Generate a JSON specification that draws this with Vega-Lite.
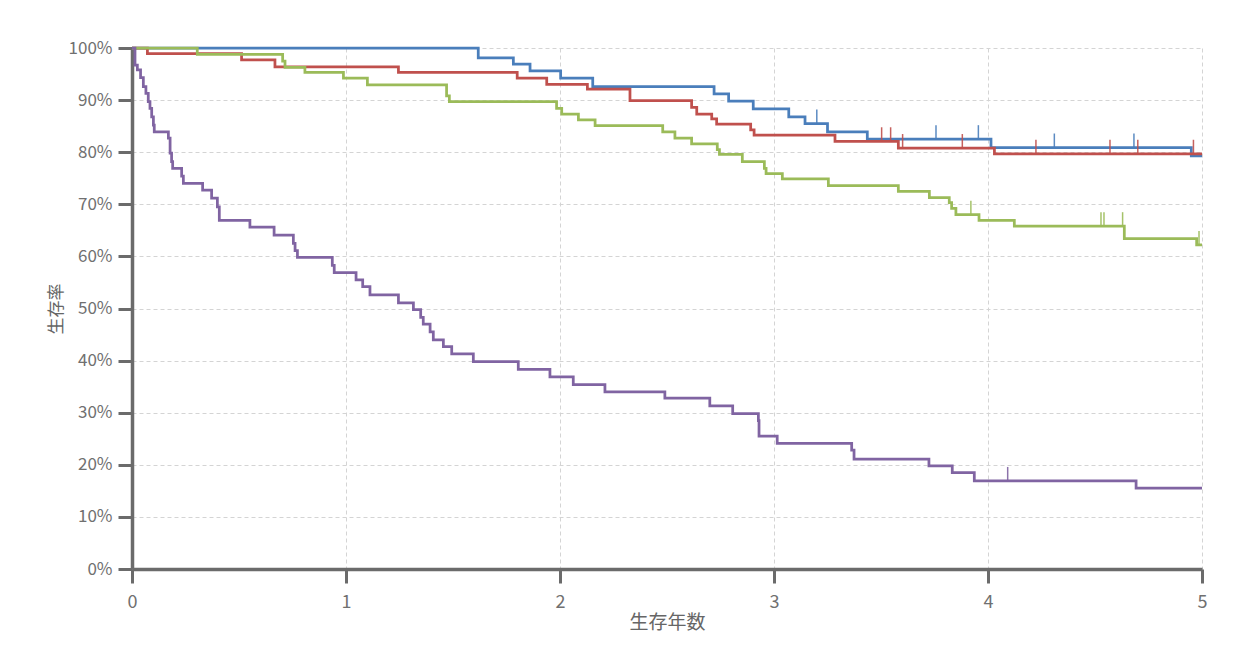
{
  "$schema": "https://vega.github.io/schema/vega-lite/v6.json",
  "width": 1070,
  "height": 521,
  "autosize": {"type": "none"},
  "padding": {"left": 132, "top": 48, "right": 41, "bottom": 90},
  "background": "white",
  "config": {"view": {"stroke": null}, "font": "Noto Sans CJK JP"},
  "datasets": {
    "km": [
      {"g": "1", "t": 0, "s": 100}, {"g": "1", "t": 1.618, "s": 98.1}, {"g": "1", "t": 1.782, "s": 96.9}, {"g": "1", "t": 1.86, "s": 95.6}, {"g": "1", "t": 2.003, "s": 94.2}, {"g": "1", "t": 2.153, "s": 92.6}, {"g": "1", "t": 2.72, "s": 91.2}, {"g": "1", "t": 2.788, "s": 89.8}, {"g": "1", "t": 2.903, "s": 88.3}, {"g": "1", "t": 3.069, "s": 86.8}, {"g": "1", "t": 3.145, "s": 85.5}, {"g": "1", "t": 3.25, "s": 83.9}, {"g": "1", "t": 3.436, "s": 82.5}, {"g": "1", "t": 4.014, "s": 80.9}, {"g": "1", "t": 4.95, "s": 79.3}, {"g": "1", "t": 5.0, "s": 79.3},
      {"g": "2", "t": 0, "s": 100}, {"g": "2", "t": 0.072, "s": 98.9}, {"g": "2", "t": 0.512, "s": 97.7}, {"g": "2", "t": 0.668, "s": 96.4}, {"g": "2", "t": 1.245, "s": 95.3}, {"g": "2", "t": 1.8, "s": 94.2}, {"g": "2", "t": 1.938, "s": 93.0}, {"g": "2", "t": 2.128, "s": 92.1}, {"g": "2", "t": 2.327, "s": 89.9}, {"g": "2", "t": 2.615, "s": 88.6}, {"g": "2", "t": 2.639, "s": 87.3}, {"g": "2", "t": 2.709, "s": 86.4}, {"g": "2", "t": 2.732, "s": 85.4}, {"g": "2", "t": 2.891, "s": 84.3}, {"g": "2", "t": 2.907, "s": 83.3}, {"g": "2", "t": 3.285, "s": 82.1}, {"g": "2", "t": 3.581, "s": 80.8}, {"g": "2", "t": 4.03, "s": 79.7}, {"g": "2", "t": 5.0, "s": 79.7},
      {"g": "3", "t": 0, "s": 100}, {"g": "3", "t": 0.305, "s": 98.8}, {"g": "3", "t": 0.704, "s": 97.5}, {"g": "3", "t": 0.715, "s": 96.3}, {"g": "3", "t": 0.808, "s": 95.3}, {"g": "3", "t": 0.988, "s": 94.2}, {"g": "3", "t": 1.1, "s": 92.9}, {"g": "3", "t": 1.47, "s": 90.8}, {"g": "3", "t": 1.483, "s": 89.7}, {"g": "3", "t": 1.984, "s": 88.4}, {"g": "3", "t": 2.008, "s": 87.3}, {"g": "3", "t": 2.086, "s": 86.2}, {"g": "3", "t": 2.164, "s": 85.1}, {"g": "3", "t": 2.48, "s": 83.9}, {"g": "3", "t": 2.537, "s": 82.7}, {"g": "3", "t": 2.615, "s": 81.6}, {"g": "3", "t": 2.735, "s": 80.5}, {"g": "3", "t": 2.745, "s": 79.6}, {"g": "3", "t": 2.852, "s": 78.2}, {"g": "3", "t": 2.955, "s": 76.9}, {"g": "3", "t": 2.963, "s": 75.9}, {"g": "3", "t": 3.039, "s": 74.9}, {"g": "3", "t": 3.254, "s": 73.6}, {"g": "3", "t": 3.581, "s": 72.5}, {"g": "3", "t": 3.726, "s": 71.3}, {"g": "3", "t": 3.819, "s": 70.3}, {"g": "3", "t": 3.83, "s": 69.2}, {"g": "3", "t": 3.85, "s": 68.0}, {"g": "3", "t": 3.958, "s": 66.9}, {"g": "3", "t": 4.123, "s": 65.8}, {"g": "3", "t": 4.637, "s": 63.4}, {"g": "3", "t": 4.975, "s": 62.2}, {"g": "3", "t": 5.0, "s": 62.2},
      {"g": "4", "t": 0, "s": 100}, {"g": "4", "t": 0.014, "s": 96.7}, {"g": "4", "t": 0.025, "s": 95.8}, {"g": "4", "t": 0.04, "s": 94.3}, {"g": "4", "t": 0.053, "s": 92.6}, {"g": "4", "t": 0.065, "s": 91.3}, {"g": "4", "t": 0.076, "s": 89.7}, {"g": "4", "t": 0.084, "s": 88.4}, {"g": "4", "t": 0.092, "s": 86.8}, {"g": "4", "t": 0.1, "s": 85.2}, {"g": "4", "t": 0.104, "s": 83.9}, {"g": "4", "t": 0.17, "s": 82.7}, {"g": "4", "t": 0.178, "s": 79.8}, {"g": "4", "t": 0.185, "s": 78.2}, {"g": "4", "t": 0.19, "s": 76.9}, {"g": "4", "t": 0.232, "s": 75.4}, {"g": "4", "t": 0.24, "s": 74.0}, {"g": "4", "t": 0.33, "s": 72.7}, {"g": "4", "t": 0.372, "s": 71.2}, {"g": "4", "t": 0.399, "s": 69.5}, {"g": "4", "t": 0.408, "s": 66.9}, {"g": "4", "t": 0.551, "s": 65.6}, {"g": "4", "t": 0.664, "s": 64.1}, {"g": "4", "t": 0.754, "s": 62.5}, {"g": "4", "t": 0.762, "s": 61.1}, {"g": "4", "t": 0.773, "s": 59.8}, {"g": "4", "t": 0.936, "s": 58.3}, {"g": "4", "t": 0.945, "s": 56.9}, {"g": "4", "t": 1.047, "s": 55.5}, {"g": "4", "t": 1.078, "s": 54.2}, {"g": "4", "t": 1.112, "s": 52.6}, {"g": "4", "t": 1.245, "s": 51.1}, {"g": "4", "t": 1.315, "s": 49.8}, {"g": "4", "t": 1.349, "s": 48.3}, {"g": "4", "t": 1.361, "s": 47.0}, {"g": "4", "t": 1.393, "s": 45.5}, {"g": "4", "t": 1.408, "s": 44.0}, {"g": "4", "t": 1.455, "s": 42.7}, {"g": "4", "t": 1.494, "s": 41.3}, {"g": "4", "t": 1.595, "s": 39.8}, {"g": "4", "t": 1.805, "s": 38.3}, {"g": "4", "t": 1.953, "s": 36.9}, {"g": "4", "t": 2.062, "s": 35.4}, {"g": "4", "t": 2.21, "s": 34.0}, {"g": "4", "t": 2.49, "s": 32.8}, {"g": "4", "t": 2.7, "s": 31.3}, {"g": "4", "t": 2.807, "s": 29.8}, {"g": "4", "t": 2.927, "s": 28.5}, {"g": "4", "t": 2.93, "s": 25.5}, {"g": "4", "t": 3.015, "s": 24.1}, {"g": "4", "t": 3.363, "s": 22.8}, {"g": "4", "t": 3.374, "s": 21.1}, {"g": "4", "t": 3.724, "s": 19.8}, {"g": "4", "t": 3.833, "s": 18.5}, {"g": "4", "t": 3.936, "s": 16.9}, {"g": "4", "t": 4.692, "s": 15.5}, {"g": "4", "t": 5.0, "s": 15.5}
    ],
    "censor": [
      {"g": "1", "t": 3.2, "s": 85.5}, {"g": "1", "t": 3.757, "s": 82.5}, {"g": "1", "t": 3.955, "s": 82.5}, {"g": "1", "t": 4.31, "s": 80.9}, {"g": "1", "t": 4.682, "s": 80.9},
      {"g": "2", "t": 3.503, "s": 82.1}, {"g": "2", "t": 3.545, "s": 82.1}, {"g": "2", "t": 3.601, "s": 80.8}, {"g": "2", "t": 3.88, "s": 80.8}, {"g": "2", "t": 4.224, "s": 79.7}, {"g": "2", "t": 4.57, "s": 79.7}, {"g": "2", "t": 4.7, "s": 79.7}, {"g": "2", "t": 4.96, "s": 79.7},
      {"g": "3", "t": 3.92, "s": 68.0}, {"g": "3", "t": 4.528, "s": 65.8}, {"g": "3", "t": 4.542, "s": 65.8}, {"g": "3", "t": 4.629, "s": 65.8}, {"g": "3", "t": 4.986, "s": 62.2},
      {"g": "4", "t": 4.092, "s": 16.9}
    ]
  },
  "encoding": {
    "x": {
      "field": "t", "type": "quantitative",
      "scale": {"domain": [0, 5], "nice": false, "zero": false},
      "axis": {
        "values": [0, 1, 2, 3, 4, 5],
        "title": "生存年数",
        "domainColor": "#6b6b6b", "domainWidth": 3.5,
        "tickColor": "#6b6b6b", "tickWidth": 3, "tickSize": 14,
        "labelFont": "Noto Sans CJK JP", "labelFontSize": 18, "labelColor": "#707070", "labelPadding": 10, "labelFlush": false,
        "grid": true, "gridColor": "#d4d4d4", "gridDash": [4, 3], "gridWidth": 1,
        "titleFont": "Noto Sans CJK JP", "titleFontSize": 19, "titleFontWeight": "normal", "titleColor": "#666666", "titlePadding": 2
      }
    },
    "y": {
      "field": "s", "type": "quantitative",
      "scale": {"domain": [0, 100], "nice": false},
      "axis": {
        "values": [0, 10, 20, 30, 40, 50, 60, 70, 80, 90, 100],
        "labelExpr": "datum.value + '%'",
        "title": "生存率",
        "domainColor": "#6b6b6b", "domainWidth": 3.5,
        "tickColor": "#6b6b6b", "tickWidth": 3, "tickSize": 14,
        "labelFont": "Noto Sans CJK JP", "labelFontSize": 17, "labelColor": "#707070", "labelPadding": 6, "labelFlush": false,
        "grid": true, "gridColor": "#d4d4d4", "gridDash": [4, 3], "gridWidth": 1,
        "titleFont": "Noto Sans CJK JP", "titleFontSize": 17, "titleFontWeight": "normal", "titleColor": "#666666", "titlePadding": 3
      }
    },
    "color": {
      "field": "g", "type": "nominal",
      "scale": {"domain": ["1", "2", "3", "4"], "range": ["#4a7ebb", "#c0504d", "#9bbb59", "#8064a2"]},
      "legend": null
    }
  },
  "layer": [
    {
      "data": {"name": "km"},
      "mark": {"type": "line", "interpolate": "step-after", "strokeWidth": 2.75}
    },
    {
      "data": {"name": "censor"},
      "mark": {"type": "tick", "orient": "vertical", "size": 14, "thickness": 1.5, "yOffset": -7, "opacity": 0.9}
    }
  ]
}
